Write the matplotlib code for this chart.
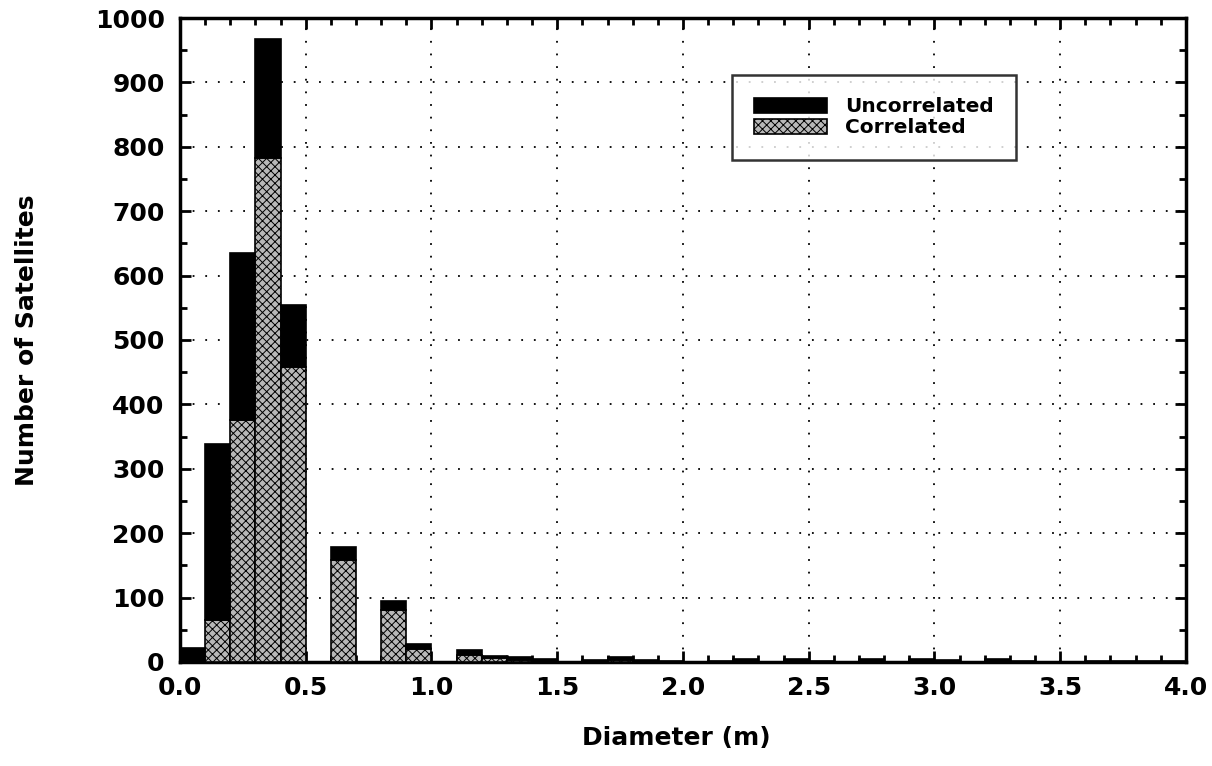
import matplotlib
matplotlib.use("Agg")
import matplotlib.pyplot as plt
import numpy as np
from matplotlib.ticker import MultipleLocator, FormatStrFormatter

plt.rcParams['font.family'] = ['DejaVu Sans']
plt.rcParams['font.weight'] = 'bold'
plt.rcParams['hatch.color'] = '#6a6a6a'
plt.rcParams['hatch.linewidth'] = 0.7

bin_left = [0.0, 0.1, 0.2, 0.3, 0.4, 0.5, 0.6, 0.7, 0.8, 0.9,
            1.0, 1.1, 1.2, 1.3, 1.4, 1.5, 1.6, 1.7, 1.8, 1.9,
            2.0, 2.1, 2.2, 2.3, 2.4, 2.5, 2.6, 2.7, 2.8, 2.9,
            3.0, 3.1, 3.2, 3.3, 3.4, 3.5, 3.6, 3.7, 3.8, 3.9]
total = [22, 338, 635, 968, 555, 0, 178, 0, 95, 28,
         0, 18, 10, 7, 4, 0, 3, 7, 3, 2,
         0, 1, 5, 0, 4, 1, 0, 5, 0, 4,
         3, 0, 5, 2, 0, 0, 1, 1, 1, 2]
correlated = [0, 65, 375, 782, 458, 0, 158, 0, 80, 20,
              0, 11, 6, 3, 1, 0, 1, 3, 1, 0,
              0, 0, 2, 0, 1, 0, 0, 2, 0, 1,
              1, 0, 2, 0, 0, 0, 0, 0, 0, 0]
uncorrelated = [t - c for t, c in zip(total, correlated)]

fig = plt.figure(figsize=(12.12, 7.66), dpi=100)
ax = fig.add_axes([0.1485, 0.1358, 0.83, 0.8407])

x = np.array(bin_left)
ax.bar(x, correlated, width=0.1, align='edge', color='#b8b8b8', hatch='xxxx',
       edgecolor='black', linewidth=1.2, label='Correlated', zorder=3)
ax.bar(x, uncorrelated, width=0.1, align='edge', bottom=correlated, color='black',
       edgecolor='black', linewidth=1.2, label='Uncorrelated', zorder=3)

ax.set_xlim(0, 4)
ax.set_ylim(0, 1000)
ax.xaxis.set_major_locator(MultipleLocator(0.5))
ax.xaxis.set_minor_locator(MultipleLocator(0.1))
ax.yaxis.set_major_locator(MultipleLocator(100))
ax.yaxis.set_minor_locator(MultipleLocator(50))
ax.xaxis.set_major_formatter(FormatStrFormatter('%.1f'))
ax.tick_params(which='both', direction='in', top=True, right=True, width=2,
               labelsize=18)
ax.tick_params(which='major', length=8)
ax.tick_params(which='minor', length=5)
ax.tick_params(axis='x', pad=10)
ax.tick_params(axis='y', pad=11)
for s in ax.spines.values():
    s.set_linewidth(2.5)
ax.grid(True, which='major', linestyle=(0, (1, 6)), color='black', linewidth=1.3, zorder=0)

ax.set_xlabel('Diameter (m)', fontsize=18, fontweight='bold')
ax.set_ylabel('Number of Satellites', fontsize=18, fontweight='bold')
ax.xaxis.set_label_coords(0.493, -0.1)
ax.yaxis.set_label_coords(-0.14, 0.5)

h, l = ax.get_legend_handles_labels()
leg = ax.legend(h[::-1], l[::-1], loc='upper left', bbox_to_anchor=(0.549, 0.911),
                fontsize=14.5, frameon=True, fancybox=False, edgecolor='black',
                handlelength=3.6, handleheight=0.8, handletextpad=0.9,
                borderpad=1.1, labelspacing=0.1, borderaxespad=0)
leg.get_frame().set_linewidth(1.8)
for t in leg.get_texts():
    t.set_fontweight('bold')

fig.savefig('out.png', dpi=100)
